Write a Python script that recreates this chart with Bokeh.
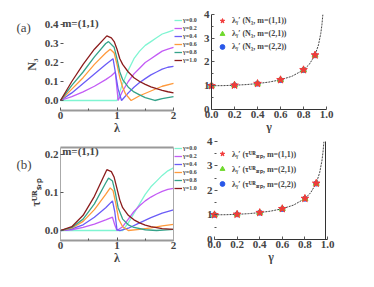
import math
from bokeh.plotting import figure
from bokeh.layouts import column, row
from bokeh.models import Legend, LegendItem, Label, Range1d, LinearAxis, FixedTicker
from bokeh.embed import file_html
from bokeh.resources import INLINE

# ---------------- data ----------------
gamma_labels = ["γ=0.0", "γ=0.2", "γ=0.4", "γ=0.6", "γ=0.8", "γ=1.0"]
colors = ["#7ff5d2", "#c35cf5", "#6a5cf7", "#ff9a3c", "#35a38a", "#8b1c1c"]

# panel (a): N3 vs lambda
n3_x = [
    [0, 1.0, 1.1, 1.2, 1.3, 1.4, 1.5, 1.6, 1.7, 1.8, 1.9, 2.0],
    [0, 0.2, 0.4, 0.6, 0.8, 0.9, 0.97, 1.02, 1.1, 1.2, 1.3, 1.4, 1.5, 1.6, 1.7, 1.8, 1.9, 2.0],
    [0, 0.2, 0.4, 0.6, 0.8, 0.93, 0.97, 1.02, 1.08, 1.2, 1.3, 1.4, 1.5, 1.6, 1.7, 1.8, 1.9, 2.0],
    [0, 0.2, 0.4, 0.6, 0.8, 0.88, 0.95, 1.0, 1.05, 1.1, 1.15, 1.25, 1.4, 1.6, 1.8, 2.0],
    [0, 0.2, 0.4, 0.6, 0.8, 0.85, 0.95, 1.0, 1.05, 1.1, 1.2, 1.3, 1.4, 1.5, 1.67, 1.8, 2.0],
    [0, 0.2, 0.4, 0.6, 0.82, 0.9, 0.95, 1.0, 1.05, 1.1, 1.2, 1.3, 1.4, 1.5, 1.6, 1.7, 1.8, 1.9, 2.0],
]
n3_y = [
    [0, 0, 0.09, 0.16, 0.22, 0.26, 0.29, 0.31, 0.33, 0.35, 0.36, 0.37],
    [0, 0.02, 0.045, 0.075, 0.11, 0.13, 0.15, 0.0, 0.05, 0.10, 0.14, 0.17, 0.20, 0.22, 0.24, 0.26, 0.27, 0.28],
    [0, 0.04, 0.09, 0.14, 0.19, 0.22, 0.15, 0.06, 0.0, 0.04, 0.07, 0.095, 0.115, 0.135, 0.15, 0.165, 0.175, 0.18],
    [0, 0.06, 0.12, 0.19, 0.25, 0.27, 0.25, 0.19, 0.12, 0.07, 0.035, 0.0, 0.025, 0.05, 0.075, 0.09],
    [0, 0.08, 0.15, 0.23, 0.30, 0.31, 0.28, 0.22, 0.15, 0.11, 0.07, 0.045, 0.03, 0.015, 0.0, 0.01, 0.02],
    [0, 0.10, 0.19, 0.27, 0.34, 0.33, 0.31, 0.27, 0.22, 0.19, 0.15, 0.12, 0.10, 0.085, 0.072, 0.062, 0.053, 0.046, 0.04],
]

# panel (b): tau vs lambda
tau_x = [
    [0, 1.1, 1.2, 1.3, 1.4, 1.5, 1.6, 1.7, 1.8, 1.9, 2.0],
    [0, 0.2, 0.4, 0.6, 0.8, 0.92, 0.96, 1.0, 1.1, 1.2, 1.3, 1.4, 1.5, 1.6, 1.7, 1.8, 1.9, 2.0],
    [0, 0.2, 0.4, 0.6, 0.8, 0.92, 0.96, 1.0, 1.05, 1.2, 1.4, 1.6, 1.8, 2.0],
    [0, 0.2, 0.4, 0.6, 0.8, 0.88, 0.93, 0.98, 1.03, 1.1, 1.2, 1.4, 1.6, 1.8, 2.0],
    [0, 0.2, 0.4, 0.6, 0.8, 0.85, 0.92, 0.97, 1.02, 1.1, 1.2, 1.3, 1.5, 1.7, 2.0],
    [0, 0.2, 0.4, 0.6, 0.82, 0.9, 0.95, 1.0, 1.05, 1.1, 1.2, 1.3, 1.4, 1.5, 1.6, 1.8, 2.0],
]
tau_y = [
    [0, 0, 0.02, 0.045, 0.07, 0.095, 0.115, 0.13, 0.145, 0.157, 0.165],
    [0, 0.002, 0.008, 0.017, 0.028, 0.035, 0.015, 0.0, 0.01, 0.03, 0.05, 0.065, 0.078, 0.088, 0.096, 0.103, 0.108, 0.111],
    [0, 0.004, 0.015, 0.035, 0.06, 0.078, 0.05, 0.002, 0.0, 0.006, 0.02, 0.034, 0.046, 0.054],
    [0, 0.006, 0.024, 0.055, 0.095, 0.112, 0.105, 0.07, 0.03, 0.01, 0.0, 0.003, 0.007, 0.012, 0.016],
    [0, 0.008, 0.03, 0.07, 0.125, 0.138, 0.13, 0.10, 0.06, 0.03, 0.015, 0.008, 0.002, 0.0, 0.003],
    [0, 0.01, 0.04, 0.09, 0.16, 0.155, 0.14, 0.11, 0.08, 0.06, 0.04, 0.028, 0.02, 0.014, 0.01, 0.005, 0.003],
]

# right panels: lambda_gamma' vs gamma
g_pts = [0.0, 0.2, 0.4, 0.6, 0.8, 0.9]
lam_m11 = [1.0, 1.02, 1.09, 1.25, 1.67, 2.29]
lam_m21 = [1.0, 1.02, 1.09, 1.25, 1.66, 2.28]
lam_m22 = [1.0, 1.02, 1.09, 1.24, 1.66, 2.28]
g_curve = [0.0, 0.1, 0.2, 0.3, 0.4, 0.5, 0.6, 0.7, 0.8, 0.85, 0.9, 0.93, 0.95, 0.96, 0.968]
lam_curve = [1.0, 1.005, 1.021, 1.048, 1.091, 1.155, 1.25, 1.40, 1.667, 1.90, 2.29, 2.72, 3.20, 3.57, 3.99]

legend_n3 = ["λᵧ′ (N₃, m=(1,1))", "λᵧ′ (N₃, m=(2,1))", "λᵧ′ (N₃, m=(2,2))"]
legend_tau = ["λᵧ′ (τᵁᴿₛᵣₚ, m=(1,1))", "λᵧ′ (τᵁᴿₛᵣₚ, m=(2,1))", "λᵧ′ (τᵁᴿₛᵣₚ, m=(2,2))"]

FONT = "Liberation Serif"


def base(w, h, xr, yr):
    # the frame fills the whole canvas; axes sit at fixed data locations
    p = figure(width=w, height=h, output_backend="svg", toolbar_location=None,
               x_range=Range1d(*xr), y_range=Range1d(*yr),
               min_border_left=0, min_border_right=0, min_border_top=0, min_border_bottom=0)
    p.title.visible = False
    p.xgrid.visible = False
    p.ygrid.visible = False
    p.outline_line_color = None
    p.background_fill_color = "white"
    p.border_fill_color = "white"
    for ax in (p.xaxis[0], p.yaxis[0]):
        ax.major_label_text_font = FONT
        ax.major_label_text_font_style = "bold"
        ax.major_label_text_font_size = "11px"
        ax.axis_label_text_font = FONT
        ax.axis_label_text_font_style = "bold"
        ax.axis_label_text_font_size = "12px"
        ax.major_tick_out = 0
        ax.major_tick_in = 3
        ax.minor_tick_out = 0
        ax.minor_tick_in = 2
        ax.major_label_standoff = 2
        ax.axis_label_standoff = -2
        ax.major_tick_line_color = "#555555"
        ax.minor_tick_line_color = "#555555"
    return p


def line_axis(bounds, fixed, color, width):
    return LinearAxis(ticker=FixedTicker(ticks=[]), bounds=bounds, fixed_location=fixed,
                      axis_line_color=color, axis_line_width=width,
                      major_label_text_font_size="0px")


def text(p, x, y, s, size, bold=True, angle=0.0, align="left"):
    p.add_layout(Label(x=x, y=y, text=s, text_font=FONT,
                       text_font_style="bold" if bold else "normal",
                       text_font_size=size, text_baseline="middle", text_align=align,
                       angle=angle))


def left_panel(xs, ys, h, yr, x_axis_y, yticks, boxed, tag, ylab, pos, leg_y):
    p = base(201, h, (-1.062, 2.4956), yr)
    items = []
    for i in range(6):
        r = p.line(xs[i], ys[i], line_color=colors[i], line_width=1.3)
        items.append(LegendItem(label=gamma_labels[i], renderers=[r]))
    xa, ya = p.xaxis[0], p.yaxis[0]
    xa.fixed_location = x_axis_y
    xa.bounds = (0, 2)
    xa.ticker = FixedTicker(ticks=[0, 1, 2], minor_ticks=[0.5, 1.5])
    xa.axis_label = "λ"
    xa.axis_line_color = "#999999"
    xa.axis_line_width = 2
    ya.fixed_location = 0
    ya.bounds = (x_axis_y, yr[1] if boxed else yticks[-1])
    ya.ticker = FixedTicker(ticks=yticks)
    ya.major_label_overrides = {0: "0.0"}
    if boxed:
        top_y = pos["top"]
        ya.bounds = (x_axis_y, top_y)
        ya.axis_line_color = "#aaaaaa"
        p.add_layout(line_axis((0, 2), top_y, "#999999", 2), "above")
        p.add_layout(line_axis((x_axis_y, top_y), 2, "#aaaaaa", 1), "right")
    else:
        ya.axis_line_color = None
    leg = Legend(items=items, location=(174, leg_y), orientation="vertical",
                 glyph_width=8, glyph_height=8, label_height=8, label_width=10,
                 label_text_font=FONT, label_text_font_style="bold",
                 label_text_font_size="6px", label_standoff=1, spacing=0,
                 padding=0, margin=0, border_line_color=None,
                 background_fill_alpha=0)
    p.add_layout(leg)
    text(p, 0.03, pos["m"], "m=(1,1)", "11px")
    text(p, -0.78, pos["tag"], tag, "13px", bold=False)
    text(p, pos["ylab_x"], pos["ylab_y"], ylab, "12px", angle=math.pi / 2, align="center")
    return p


def right_panel(labels, h, xr, yr, leg_y, leg_h, right_line):
    p = base(157, h, xr, yr)
    p.line(g_curve, lam_curve, line_color="#444444", line_dash="2 1", line_width=1)
    rc = p.scatter(g_pts, lam_m22, marker="circle", size=5, color="#2857e8")
    rt = p.scatter(g_pts, lam_m21, marker="triangle", size=6, color="#6fd92c")
    rs = p.scatter(g_pts, lam_m11, marker="star", size=8, color="#f23a3a")
    xa, ya = p.xaxis[0], p.yaxis[0]
    xa.fixed_location = 0
    xa.bounds = (0, 1)
    xa.ticker = FixedTicker(ticks=[0, 0.2, 0.4, 0.6, 0.8, 1.0])
    xa.major_label_overrides = {0: "0.0", 1: "1.0"}
    xa.axis_label = "γ"
    xa.axis_line_color = "#333333"
    xa.minor_tick_line_color = None
    ya.fixed_location = 0
    ya.bounds = (0, 4)
    ya.ticker = FixedTicker(ticks=[0, 1, 2, 3, 4], minor_ticks=[0.5, 1.5, 2.5, 3.5])
    ya.axis_line_color = "#333333"
    if right_line:
        ya.axis_line_color = None
        p.add_layout(line_axis((0, 4), 0.985, "#333333", 1), "right")
    leg = Legend(items=[LegendItem(label=labels[0], renderers=[rs]),
                        LegendItem(label=labels[1], renderers=[rt]),
                        LegendItem(label=labels[2], renderers=[rc])],
                 location=(15, leg_y), glyph_width=12, glyph_height=leg_h, label_height=leg_h,
                 label_text_font=FONT, label_text_font_style="bold",
                 label_text_font_size="8px", label_standoff=4, spacing=0, padding=0,
                 margin=0, border_line_color=None, background_fill_alpha=0)
    p.add_layout(leg)
    return p


pa = left_panel(n3_x, n3_y, 133, (-0.1737, 0.5263), -0.0526, [0, 0.1, 0.2, 0.3, 0.4], False,
                "(a)", "N₃", {"m": 0.41, "tag": 0.384, "ylab_x": -0.5, "ylab_y": 0.189}, 69)
pb = right_panel(legend_n3, 133, (-0.087, 1.278), (-1.0105, 4.589), 80, 13, False)

pc = left_panel(tau_x, tau_y, 138, (-0.1079, 0.2553), -0.0263, [0, 0.1, 0.2], True,
                "(b)", "τᵁᴿₛᵣₚ",
                {"m": 0.21, "tag": 0.174, "ylab_x": -0.43, "ylab_y": 0.1, "top": 0.2184}, 79)
pd = right_panel(legend_tau, 138, (-0.115, 1.274), (-1.32, 4.33), 80, 15, True)

layout = column(row(pa, pb, spacing=0), row(pc, pd, spacing=0), spacing=0)
open("out.html", "w").write(file_html(layout, INLINE))
